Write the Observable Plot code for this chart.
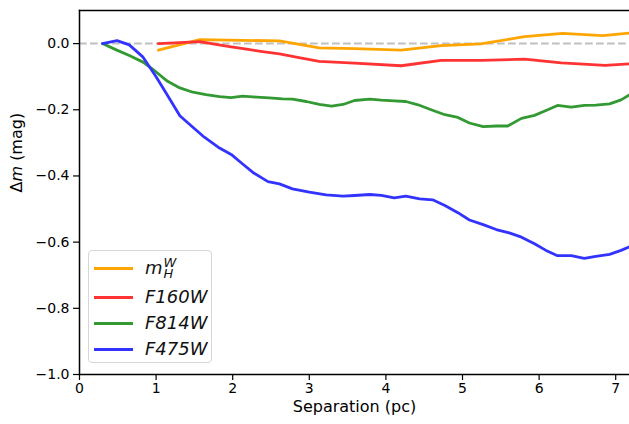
<!DOCTYPE html>
<html>
<head>
<meta charset="utf-8">
<script src="https://cdn.jsdelivr.net/npm/d3@7"></script>
<script src="https://cdn.jsdelivr.net/npm/@observablehq/plot@0.6"></script>
<style>
  html, body { margin: 0; padding: 0; background: #fff; }
  #wrap { position: relative; width: 629px; height: 424px; font-family: "DejaVu Sans", sans-serif; }
  #legend { position: absolute; left: 88px; top: 250px; width: 124px; height: 113px;
    border: 1px solid #d6d6d6; border-radius: 4px; background: rgba(255,255,255,0.8); box-sizing: border-box; }
  .row { position: absolute; left: 0; height: 26px; width: 120px; }
  .sw { position: absolute; left: 5px; width: 39px; height: 3px; top: 12px; }
  .lab { position: absolute; left: 56px; top: 0; font-style: oblique; font-size: 18px; line-height: 26px; color: #111; white-space: nowrap; }
  .ss { display: inline-block; vertical-align: top; position: relative; top: 1.5px; margin-left: 1px;
    font-size: 13px; line-height: 11px; white-space: pre; }
</style>
</head>
<body>
<div id="wrap"><div id="chart"></div><div id="legend"></div></div>
<script>
// ---- data ----
const seriesNames = ["mHW", "F160W", "F814W", "F475W"];
const seriesColors = ["#ffa500", "#ff3333", "#339933", "#3333ff"];

const xF475W = [0.30,0.49,0.65,0.83,1.00,1.15,1.31,1.48,1.63,1.81,1.98,2.13,2.28,2.46,2.61,2.78,3.00,3.22,3.44,3.59,3.79,3.94,4.11,4.26,4.44,4.61,4.77,4.94,5.09,5.27,5.44,5.61,5.77,5.94,6.09,6.24,6.42,6.59,6.74,6.92,7.07,7.20];
const yF475W = [0,0.009,-0.004,-0.041,-0.10,-0.157,-0.218,-0.253,-0.283,-0.313,-0.335,-0.364,-0.392,-0.417,-0.424,-0.439,-0.449,-0.457,-0.461,-0.459,-0.456,-0.459,-0.466,-0.461,-0.469,-0.472,-0.489,-0.511,-0.533,-0.547,-0.562,-0.572,-0.585,-0.605,-0.625,-0.641,-0.641,-0.649,-0.643,-0.637,-0.625,-0.612];

const xF814W = [0.30,0.48,0.65,0.83,0.98,1.15,1.31,1.48,1.65,1.83,1.98,2.13,2.31,2.48,2.65,2.78,2.96,3.13,3.29,3.44,3.59,3.79,3.94,4.11,4.26,4.42,4.59,4.77,4.94,5.09,5.27,5.44,5.59,5.77,5.94,6.09,6.24,6.42,6.59,6.74,6.92,7.07,7.20];
const yF814W = [0,-0.019,-0.036,-0.056,-0.082,-0.114,-0.134,-0.147,-0.154,-0.160,-0.163,-0.159,-0.162,-0.164,-0.167,-0.168,-0.175,-0.184,-0.189,-0.184,-0.172,-0.168,-0.171,-0.173,-0.175,-0.185,-0.200,-0.215,-0.223,-0.240,-0.251,-0.249,-0.249,-0.226,-0.217,-0.202,-0.187,-0.192,-0.187,-0.186,-0.182,-0.170,-0.152];

const xF160W = [1.03,1.31,1.57,1.74,1.96,2.18,2.39,2.61,2.83,3.13,3.59,4.20,4.72,5.24,5.81,6.29,6.86,7.20];
const yF160W = [0.0,0.003,0.006,-0.001,-0.009,-0.017,-0.024,-0.031,-0.041,-0.054,-0.059,-0.067,-0.051,-0.051,-0.047,-0.058,-0.066,-0.061];

const xMHW = [1.03,1.57,2.61,3.13,3.59,4.20,4.72,5.24,5.81,6.31,6.83,7.20];
const yMHW = [-0.020,0.012,0.008,-0.013,-0.015,-0.020,-0.006,-0.001,0.021,0.031,0.024,0.032];

const xTicks = [0,1,2,3,4,5,6,7];
const yTicks = [-1.0,-0.8,-0.6,-0.4,-0.2,0.0];

// ---- build table ----
const toRows = (xs, ys, s) => xs.map((x, i) => ({x, y: ys[i], s}));
const rows = [
  ...toRows(xMHW, yMHW, "mHW"),
  ...toRows(xF160W, yF160W, "F160W"),
  ...toRows(xF814W, yF814W, "F814W"),
  ...toRows(xF475W, yF475W, "F475W")
];

const font = "DejaVu Sans, sans-serif";
const chart = Plot.plot({
  width: 629,
  height: 424,
  marginLeft: 79,
  marginRight: 0,
  marginTop: 10,
  marginBottom: 50,
  style: {fontFamily: font, fontSize: "14px", color: "#000", background: "#fff"},
  x: {domain: [0, 7.18]},
  y: {domain: [-1.0, 0.1]},
  color: {domain: seriesNames, range: seriesColors},
  marks: [
    Plot.ruleY([0], {stroke: "#c0c0c0", strokeWidth: 2, strokeDasharray: "7.7,3.3"}),
    ...seriesNames.map(n => Plot.line(rows.filter(d => d.s === n), {x: "x", y: "y", stroke: "s", strokeWidth: 2.8, clip: true, strokeLinejoin: "round"})),
    Plot.axisX({ticks: xTicks, tickFormat: d3.format("d"), tickSize: 6, tickPadding: 3, fontSize: 14, stroke: "#000", strokeWidth: 1.2, label: null}),
    Plot.axisY({ticks: yTicks, tickFormat: d3.format(".1f"), tickSize: 6, tickPadding: 4, fontSize: 14, stroke: "#000", strokeWidth: 1.2, label: null}),
    Plot.frame({anchor: "left", strokeWidth: 1.5, stroke: "#000"}),
    Plot.frame({anchor: "bottom", strokeWidth: 1.5, stroke: "#000"}),
    Plot.frame({anchor: "top", strokeWidth: 1.5, stroke: "#000"}),
    Plot.text(["Separation (pc)"], {frameAnchor: "bottom", dy: 37, fill: "#000", className: "axlab"}),
    Plot.text(["Δm (mag)"], {frameAnchor: "left", dx: -63, rotate: -90, fill: "#000", className: "axlab ylab"})
  ]
});
document.getElementById("chart").appendChild(chart);

// explicit font size on axis titles, italic m in y label
d3.select(chart).selectAll(".axlab text").style("font-size", "16px");
d3.select(chart).selectAll(".ylab text").each(function() {
  const t = d3.select(this);
  t.text(null);
  t.append("tspan").text("Δ");
  t.append("tspan").attr("font-style", "oblique").text("m");
  t.append("tspan").text(" (mag)");
});

// ---- legend ----
const legend = document.getElementById("legend");
seriesNames.forEach((n, i) => {
  const row = document.createElement("div");
  row.className = "row";
  row.style.top = [4, 33, 59, 85][i] + "px";
  const sw = document.createElement("div");
  sw.className = "sw";
  sw.style.background = seriesColors[i];
  row.appendChild(sw);
  const lab = document.createElement("div");
  lab.className = "lab";
  if (n === "mHW") {
    lab.innerHTML = 'm<span class="ss">W\nH</span>';
  } else {
    lab.textContent = n;
  }
  row.appendChild(lab);
  legend.appendChild(row);
});
</script>
</body>
</html>
